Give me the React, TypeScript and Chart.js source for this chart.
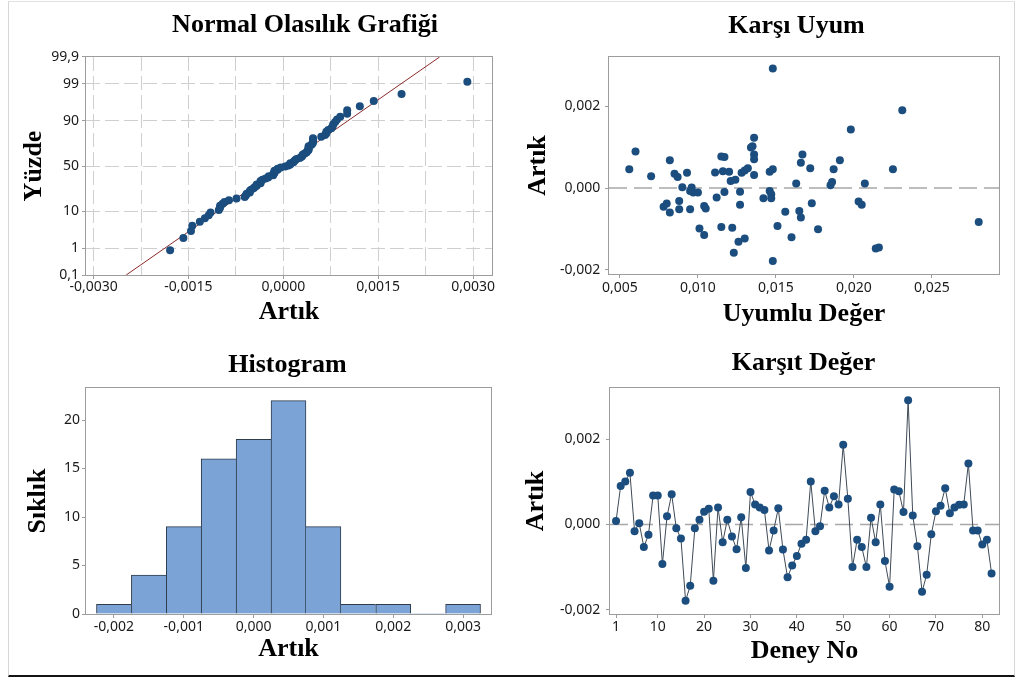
import { useEffect, useRef } from 'react';
import { Chart, registerables } from 'chart.js';

Chart.register(...registerables);

const FONT_SANS = "'Noto Sans', 'Open Sans', sans-serif";
const FONT_SERIF = "'Liberation Serif', 'DejaVu Serif', serif";
const DOT = '#1b4d7e';
const AXIS = '#9c9c9c';
const GRID = '#cfcfcf';
const REF = '#a8a8a8';
const TICK_TEXT = '#1a1a1a';
const DOT_RADIUS = 4;

Chart.defaults.font.family = FONT_SANS;
Chart.defaults.font.size = 14;
Chart.defaults.color = TICK_TEXT;

// Residuals in run order (Deney No 1..82)
const residuals = [
  0.00008, 0.0009, 0.00101, 0.00121, -0.00016, 0.00003, -0.00053, -0.00024, 0.00068, 0.00068,
  -0.00093, 0.00019, 0.00071, -0.00009, -0.00033, -0.00179, -0.00144, -0.00009, 0.00011, 0.0003,
  0.00037, -0.00132, 0.0004, -0.00042, 0.00011, -0.00028, -0.00058, 0.00017, -0.00102, 0.00076,
  0.00047, 0.0004, 0.00034, -0.00061, -0.00014, 0.00038, -0.00059, -0.00124, -0.00096, -0.00074,
  -0.00045, -0.00036, 0.00101, -0.00016, -0.00004, 0.00079, 0.0004, 0.00066, 0.00047, 0.00187,
  0.0006, -0.001, -0.00036, -0.00053, -0.001, 0.00016, -0.00042, 0.00047, -0.00086, -0.00146,
  0.00082, 0.00078, 0.00029, 0.00291, 0.00021, -0.00051, -0.00158, -0.00118, -0.00023, 0.00031,
  0.00044, 0.00085, 0.00026, 0.0004, 0.00046, 0.00047, 0.00143, -0.00014, -0.00014, -0.00047,
  -0.00036, -0.00115,
];

// Residual versus fitted value pairs
const fittedValues = [
  0.0056, 0.006, 0.007, 0.0078, 0.008, 0.0082, 0.0082, 0.0085, 0.0087, 0.0088,
  0.0088, 0.009, 0.0093, 0.0095, 0.0096, 0.0097, 0.01, 0.0095, 0.0104, 0.0105,
  0.0101, 0.0104, 0.0111, 0.0115, 0.0117, 0.0116, 0.012, 0.0121, 0.0124, 0.0112,
  0.0117, 0.0115, 0.0122, 0.0123, 0.0126, 0.0127, 0.0127, 0.0128, 0.013, 0.0132,
  0.013, 0.0134, 0.0135, 0.0136, 0.0136, 0.0136, 0.0136, 0.0142, 0.0146, 0.0148,
  0.0146, 0.0147, 0.0147, 0.0148, 0.0148, 0.0151, 0.0156, 0.016, 0.0163, 0.0165,
  0.0166, 0.0166, 0.0167, 0.0172, 0.0173, 0.0177, 0.0185, 0.0186, 0.0187, 0.0191,
  0.0198, 0.0203, 0.0205, 0.0207, 0.0214, 0.0216, 0.0225, 0.0231, 0.028,
];
const fittedResiduals = [
  0.00046, 0.00089, 0.00029, -0.00046, -0.00038, 0.00068, -0.0006, 0.00035, 0.00027, -0.00032,
  -0.00052, 0.00002, 0.00037, -0.00007, 0.00001, -0.00011, -0.00011, -0.00052, -0.00044, -0.0005,
  -0.00099, -0.00115, 0.00038, 0.00077, 0.00076, 0.00041, 0.0004, 0.00017, 0.0002, -0.00023,
  -0.0001, -0.00095, -0.00097, -0.00158, -0.00131, -0.00009, -0.00041, 0.00037, 0.00043, 0.00048,
  -0.00123, 0.00099, 0.00102, 0.00123, 0.00082, 0.0007, 0.00032, -0.00025, 0.0004, 0.00046,
  -0.00007, -0.00015, -0.00025, 0.00292, -0.00178, -0.00093, -0.00058, -0.0012, 0.00011, -0.00056,
  -0.00072, 0.00062, 0.00082, 0.00048, -0.00037, -0.00101, 0.00007, 0.00015, 0.00046, 0.00068,
  0.00143, -0.00033, -0.00041, 0.00011, -0.00148, -0.00145, 0.00046, 0.0019, -0.00083,
];

// Histogram bins (centres) and frequencies
const histCenters = [-0.002, -0.0015, -0.001, -0.0005, 0, 0.0005, 0.001, 0.0015, 0.002, 0.0025, 0.003];
const histCounts = [1, 4, 9, 16, 18, 22, 9, 1, 1, 0, 1];

// Axis ticks and labels
const probPercentTicks = [0.1, 1, 10, 50, 90, 99, 99.9];
const probPercentLabels = ['0,1', '1', '10', '50', '90', '99', '99,9'];
const probXGrid = [-0.003, -0.00225, -0.0015, -0.00075, 0, 0.00075, 0.0015, 0.00225, 0.003];
const probXTicks = [-0.003, -0.0015, 0, 0.0015, 0.003];
const probXLabels = ['-0,0030', '-0,0015', '0,0000', '0,0015', '0,0030'];
const fitTicks = [0.005, 0.01, 0.015, 0.02, 0.025];
const fitLabels = ['0,005', '0,010', '0,015', '0,020', '0,025'];
const residTicks = [-0.002, 0, 0.002];
const residLabels = ['-0,002', '0,000', '0,002'];
const histXTicks = [-0.002, -0.001, 0, 0.001, 0.002, 0.003];
const histXLabels = ['-0,002', '-0,001', '0,000', '0,001', '0,002', '0,003'];
const countTicks = [0, 5, 10, 15, 20];
const countLabels = ['0', '5', '10', '15', '20'];
const runTicks = [1, 10, 20, 30, 40, 50, 60, 70, 80];
const runLabels = ['1', '10', '20', '30', '40', '50', '60', '70', '80'];

// Inverse of the standard normal CDF (Acklam's rational approximation)
function invNorm(p: number): number {
  const a = [-3.969683028665376e1, 2.209460984245205e2, -2.759285104469687e2, 1.38357751867269e2, -3.066479806614716e1, 2.506628277459239];
  const b = [-5.447609879822406e1, 1.615858368580409e2, -1.556989798598866e2, 6.680131188771972e1, -1.328068155288572e1];
  const c = [-7.784894002430293e-3, -3.223964580411365e-1, -2.400758277161838, -2.549732539343734, 4.374664141464968, 2.938163982698783];
  const d = [7.784695709041462e-3, 3.224671290700398e-1, 2.445134137142996, 3.754408661907416];
  const pLow = 0.02425;
  if (p < pLow) {
    const q = Math.sqrt(-2 * Math.log(p));
    return (((((c[0] * q + c[1]) * q + c[2]) * q + c[3]) * q + c[4]) * q + c[5]) / ((((d[0] * q + d[1]) * q + d[2]) * q + d[3]) * q + 1);
  }
  if (p <= 1 - pLow) {
    const q = p - 0.5;
    const r = q * q;
    return ((((((a[0] * r + a[1]) * r + a[2]) * r + a[3]) * r + a[4]) * r + a[5]) * q) / (((((b[0] * r + b[1]) * r + b[2]) * r + b[3]) * r + b[4]) * r + 1);
  }
  const q = Math.sqrt(-2 * Math.log(1 - p));
  return -(((((c[0] * q + c[1]) * q + c[2]) * q + c[3]) * q + c[4]) * q + c[5]) / ((((d[0] * q + d[1]) * q + d[2]) * q + d[3]) * q + 1);
}

const labelFrom = (values: number[], labels: string[]) => (v: number) => {
  const i = values.findIndex((t) => Math.abs(t - v) < 1e-12);
  return i >= 0 ? labels[i] : '';
};

const setTicks = (values: number[]) => (scale: any) => {
  scale.ticks = values.map((value) => ({ value }));
};

const framePlugin = {
  id: 'plotFrame',
  beforeDatasetsDraw(chart: any) {
    const { ctx, chartArea: a } = chart;
    ctx.save();
    ctx.strokeStyle = AXIS;
    ctx.lineWidth = 1;
    const l = Math.round(a.left) - 0.5;
    const t = Math.round(a.top) - 0.5;
    ctx.strokeRect(l, t, Math.round(a.right) - Math.round(a.left) + 1, Math.round(a.bottom) - Math.round(a.top) + 1);
    ctx.restore();
  },
};

const panelTitlePlugin = {
  id: 'panelTitle',
  afterDraw(chart: any, _args: any, opts: any) {
    const ctx = chart.ctx;
    ctx.save();
    ctx.font = `bold 26px ${FONT_SERIF}`;
    ctx.fillStyle = '#000';
    ctx.textAlign = 'center';
    ctx.textBaseline = 'middle';
    ctx.fillText(opts.text, opts.x, opts.y);
    ctx.restore();
  },
};

const serifTitle = (text: string, padding: any) => ({
  display: true,
  text,
  color: '#000',
  font: { family: FONT_SERIF, size: 26, weight: 'bold' as const },
  padding,
});

const basePlugins = (title: any) => ({
  legend: { display: false },
  tooltip: { enabled: false },
  panelTitle: title,
});

const plainGrid = { drawOnChartArea: false, tickLength: 4, tickColor: AXIS, lineWidth: 1 };

function probabilityConfig(): any {
  const sorted = [...residuals].sort((a, b) => a - b);
  const n = sorted.length;
  const points = sorted.map((r, i) => ({ x: r, y: invNorm((i + 1 - 0.3) / (n + 0.4)) }));
  const mean = residuals.reduce((s, v) => s + v, 0) / n;
  const sd = Math.sqrt(residuals.reduce((s, v) => s + (v - mean) ** 2, 0) / (n - 1));
  const zMin = invNorm(0.001);
  const zMax = invNorm(0.999);
  const fitLine = [
    { x: mean + sd * zMin, y: zMin },
    { x: mean + sd * zMax, y: zMax },
  ];
  const zTicks = probPercentTicks.map((p) => invNorm(p / 100));
  const isLabelled = (v: number) => probXTicks.some((t) => Math.abs(t - v) < 1e-12);
  return {
    type: 'scatter',
    data: {
      datasets: [
        { data: points, pointRadius: DOT_RADIUS, pointBackgroundColor: DOT, pointBorderWidth: 0, showLine: false },
        { data: fitLine, showLine: true, borderColor: '#8b2b2b', borderWidth: 1, pointRadius: 0 },
      ],
    },
    options: {
      responsive: false,
      animation: false,
      layout: { padding: { left: 0, right: 19, top: 57, bottom: 0 } },
      plugins: basePlugins({ text: 'Normal Olasılık Grafiği', x: 305, y: 25.5 }),
      scales: {
        x: {
          type: 'linear',
          min: -0.00312,
          max: 0.0033,
          afterBuildTicks: setTicks(probXGrid),
          afterFit: (s: any) => { s.height = 65; },
          ticks: { autoSkip: false, maxRotation: 0, padding: 0, callback: labelFrom(probXTicks, probXLabels) },
          grid: {
            color: GRID,
            lineWidth: 1,
            tickLength: 4,
            tickColor: (ctx: any) => (ctx.tick && isLabelled(ctx.tick.value) ? AXIS : 'rgba(0,0,0,0)'),
          },
          border: { display: false, dash: [14, 5] },
          title: serifTitle('Artık', { top: 0, bottom: 11.9 }),
        },
        y: {
          type: 'linear',
          min: zMin,
          max: zMax,
          afterBuildTicks: setTicks(zTicks),
          afterFit: (s: any) => { s.width = 86; },
          ticks: { autoSkip: false, padding: 3, callback: labelFrom(zTicks, probPercentLabels) },
          grid: { color: GRID, lineWidth: 1, tickLength: 4, tickColor: AXIS },
          border: { display: false, dash: [14, 5] },
          title: serifTitle('Yüzde', { top: 18.2, bottom: 0 }),
        },
      },
    },
    plugins: [framePlugin, panelTitlePlugin],
  };
}

function versusFitsConfig(): any {
  const xMin = 0.0043;
  const xMax = 0.0293;
  return {
    type: 'scatter',
    data: {
      datasets: [
        {
          data: fittedValues.map((x, i) => ({ x, y: fittedResiduals[i] })),
          pointRadius: DOT_RADIUS,
          pointBackgroundColor: DOT,
          pointBorderWidth: 0,
        },
        {
          data: [{ x: xMin, y: 0 }, { x: xMax, y: 0 }],
          showLine: true,
          borderColor: REF,
          borderWidth: 1.5,
          borderDash: [18, 7],
          pointRadius: 0,
        },
      ],
    },
    options: {
      responsive: false,
      animation: false,
      layout: { padding: { left: 0, right: 23, top: 57, bottom: 0 } },
      plugins: basePlugins({ text: 'Karşı Uyum', x: 285.5, y: 26 }),
      scales: {
        x: {
          type: 'linear',
          min: xMin,
          max: xMax,
          afterBuildTicks: setTicks(fitTicks),
          afterFit: (s: any) => { s.height = 66; },
          ticks: { autoSkip: false, maxRotation: 0, padding: 2, callback: labelFrom(fitTicks, fitLabels) },
          grid: plainGrid,
          border: { display: false },
          title: serifTitle('Uyumlu Değer', { top: 0, bottom: 10.2 }),
        },
        y: {
          type: 'linear',
          min: -0.0021,
          max: 0.0032,
          afterBuildTicks: setTicks(residTicks),
          afterFit: (s: any) => { s.width = 98; },
          ticks: { autoSkip: false, padding: 4.7, callback: labelFrom(residTicks, residLabels) },
          grid: plainGrid,
          border: { display: false },
          title: serifTitle('Artık', { top: 11.9, bottom: 0 }),
        },
      },
    },
    plugins: [framePlugin, panelTitlePlugin],
  };
}

function histogramConfig(): any {
  return {
    type: 'bar',
    data: {
      datasets: [
        {
          data: histCenters.map((x, i) => ({ x, y: histCounts[i] })),
          backgroundColor: '#7ba3d6',
          borderColor: '#2e3c4c',
          borderSkipped: 'start',
          borderWidth: (ctx: any) => {
            const i = ctx.dataIndex;
            const c = histCounts[i];
            const prev = i > 0 ? histCounts[i - 1] : -1;
            const next = i < histCounts.length - 1 ? histCounts[i + 1] : -1;
            return { top: 1, left: prev <= c ? 1 : 0, right: next < c ? 1 : 0, bottom: 0 };
          },
          barPercentage: 1,
          categoryPercentage: 1,
        },
      ],
    },
    options: {
      responsive: false,
      animation: false,
      layout: { padding: { left: 0, right: 20, top: 48, bottom: 0 } },
      plugins: basePlugins({ text: 'Histogram', x: 287.5, y: 25.3 }),
      scales: {
        x: {
          type: 'linear',
          min: -0.0024,
          max: 0.0034,
          offset: false,
          afterBuildTicks: setTicks(histXTicks),
          afterFit: (s: any) => { s.height = 68; },
          ticks: { autoSkip: false, maxRotation: 0, padding: 1, callback: labelFrom(histXTicks, histXLabels) },
          grid: { ...plainGrid, offset: false },
          border: { display: false },
          title: serifTitle('Artık', { top: 0, bottom: 16.9 }),
        },
        y: {
          type: 'linear',
          min: 0,
          max: 23.3,
          afterBuildTicks: setTicks(countTicks),
          afterFit: (s: any) => { s.width = 86; },
          ticks: { autoSkip: false, padding: 2, callback: labelFrom(countTicks, countLabels) },
          grid: plainGrid,
          border: { display: false },
          title: serifTitle('Sıklık', { top: 22.7, bottom: 0 }),
        },
      },
    },
    plugins: [framePlugin, panelTitlePlugin],
  };
}

function runOrderConfig(): any {
  const xMin = -0.3;
  const xMax = 83.6;
  return {
    type: 'scatter',
    data: {
      datasets: [
        {
          data: residuals.map((y, i) => ({ x: i + 1, y })),
          showLine: true,
          borderColor: '#3e4a56',
          borderWidth: 1,
          pointRadius: DOT_RADIUS,
          pointBackgroundColor: DOT,
          pointBorderWidth: 0,
        },
        {
          data: [{ x: xMin, y: 0 }, { x: xMax, y: 0 }],
          showLine: true,
          borderColor: REF,
          borderWidth: 1.5,
          borderDash: [18, 7],
          pointRadius: 0,
        },
      ],
    },
    options: {
      responsive: false,
      animation: false,
      layout: { padding: { left: 0, right: 23, top: 48, bottom: 0 } },
      plugins: basePlugins({ text: 'Karşıt Değer', x: 292.5, y: 23.3 }),
      scales: {
        x: {
          type: 'linear',
          min: xMin,
          max: xMax,
          afterBuildTicks: setTicks(runTicks),
          afterFit: (s: any) => { s.height = 68; },
          ticks: { autoSkip: false, maxRotation: 0, padding: 0.5, callback: labelFrom(runTicks, runLabels) },
          grid: plainGrid,
          border: { display: false },
          title: serifTitle('Deney No', { top: 0, bottom: 14.7 }),
        },
        y: {
          type: 'linear',
          min: -0.0021,
          max: 0.0032,
          afterBuildTicks: setTicks(residTicks),
          afterFit: (s: any) => { s.width = 99; },
          ticks: { autoSkip: false, padding: 5.7, callback: labelFrom(residTicks, residLabels) },
          grid: plainGrid,
          border: { display: false },
          title: serifTitle('Artık', { top: 10.1, bottom: 0 }),
        },
      },
    },
    plugins: [framePlugin, panelTitlePlugin],
  };
}

function Panel({ left, top, width, height, build }: { left: number; top: number; width: number; height: number; build: () => any }) {
  const ref = useRef<HTMLCanvasElement>(null);
  useEffect(() => {
    const chart = new Chart(ref.current as HTMLCanvasElement, build());
    return () => chart.destroy();
  }, [build]);
  return (
    <canvas
      ref={ref}
      width={width}
      height={height}
      style={{ position: 'absolute', left, top, width, height, display: 'block' }}
    />
  );
}

export default function App() {
  return (
    <div style={{ position: 'absolute', left: 0, top: 0, width: 1022, height: 682, background: '#fff', overflow: 'hidden' }}>
      <div
        style={{
          position: 'absolute',
          left: 8,
          top: 1,
          width: 1005,
          height: 673,
          borderLeft: '1px solid #d6d6d6',
          borderRight: '1px solid #d6d6d6',
          borderTop: '1px solid #e2e2e2',
          borderBottom: '2px solid #141414',
        }}
      />
      <Panel left={0} top={0} width={511} height={340} build={probabilityConfig} />
      <Panel left={511} top={0} width={511} height={340} build={versusFitsConfig} />
      <Panel left={0} top={340} width={511} height={342} build={histogramConfig} />
      <Panel left={511} top={340} width={511} height={342} build={runOrderConfig} />
    </div>
  );
}
